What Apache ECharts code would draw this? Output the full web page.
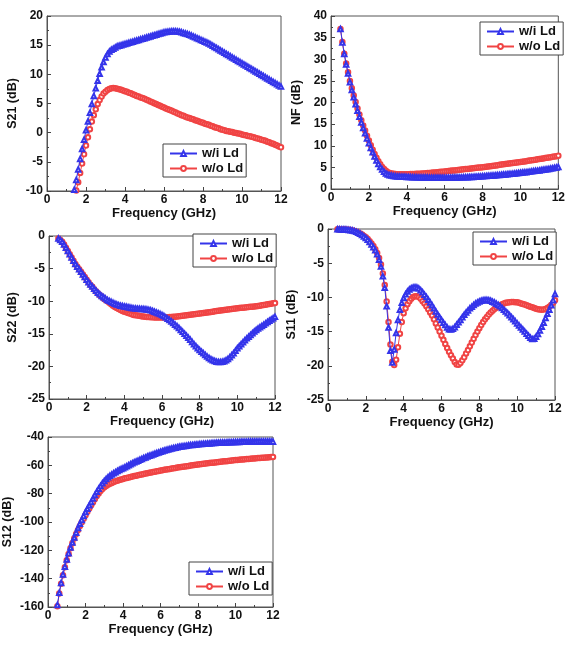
<!DOCTYPE html>
<html>
<head>
<meta charset="utf-8">
<script src="https://cdn.jsdelivr.net/npm/echarts@6/dist/echarts.min.js"></script>
<style>
html,body{margin:0;padding:0;background:#fff;}
#chart{width:568px;height:655px;}
</style>
</head>
<body>
<div id="chart"></div>
<script>
// Frequency sweep (GHz), 0.5 .. 12.0
const freq = [
  0.5,0.6,0.7,0.8,0.9,
  1.0,1.1,1.2,1.3,1.4,1.5,1.6,1.7,1.8,1.9,
  2.0,2.1,2.2,2.3,2.4,2.5,2.6,2.7,2.8,2.9,
  3.0,3.1,3.2,3.3,3.4,3.5,3.6,3.7,3.8,3.9,
  4.0,4.1,4.2,4.3,4.4,4.5,4.6,4.7,4.8,4.9,
  5.0,5.1,5.2,5.3,5.4,5.5,5.6,5.7,5.8,5.9,
  6.0,6.1,6.2,6.3,6.4,6.5,6.6,6.7,6.8,6.9,
  7.0,7.1,7.2,7.3,7.4,7.5,7.6,7.7,7.8,7.9,
  8.0,8.1,8.2,8.3,8.4,8.5,8.6,8.7,8.8,8.9,
  9.0,9.1,9.2,9.3,9.4,9.5,9.6,9.7,9.8,9.9,
  10.0,10.1,10.2,10.3,10.4,10.5,10.6,10.7,10.8,10.9,
  11.0,11.1,11.2,11.3,11.4,11.5,11.6,11.7,11.8,11.9,
  12.0
];

const seriesNames = ['w/i Ld', 'w/o Ld'];

// S21 (dB)
const s21Wi = [
  null,null,null,null,null,
  null,null,null,null,-9.8,-8.1,-6.3,-4.5,-2.8,-1.2,
  0.4,1.9,3.4,4.9,6.3,7.6,8.9,10.1,11.2,12.1,
  12.9,13.5,13.9,14.2,14.4,14.6,14.8,14.9,15.0,15.1,
  15.2,15.3,15.4,15.5,15.6,15.7,15.8,15.9,16.0,16.1,
  16.2,16.3,16.4,16.5,16.6,16.7,16.8,16.9,17.0,17.1,
  17.2,17.25,17.3,17.35,17.4,17.4,17.4,17.35,17.3,17.2,
  17.1,17.0,16.9,16.8,16.65,16.5,16.35,16.2,16.05,15.9,
  15.75,15.6,15.45,15.3,15.1,14.9,14.7,14.5,14.3,14.1,
  13.9,13.7,13.5,13.3,13.1,12.9,12.7,12.5,12.3,12.1,
  11.9,11.7,11.5,11.3,11.1,10.9,10.7,10.5,10.3,10.1,
  9.9,9.7,9.5,9.3,9.1,8.9,8.7,8.5,8.3,8.1,
  7.9
];
const s21Wo = [
  null,null,null,null,null,
  null,null,null,null,null,-9.9,-8.5,-6.9,-5.3,-3.7,
  -2.2,-0.8,0.6,1.9,3.0,4.0,4.9,5.6,6.2,6.7,
  7.0,7.3,7.5,7.6,7.65,7.6,7.55,7.45,7.35,7.25,
  7.1,7.0,6.85,6.75,6.6,6.45,6.3,6.2,6.05,5.95,
  5.8,5.65,5.5,5.35,5.2,5.05,4.9,4.75,4.6,4.45,
  4.3,4.15,4.0,3.9,3.75,3.6,3.45,3.3,3.15,3.0,
  2.9,2.75,2.6,2.5,2.4,2.3,2.15,2.05,1.9,1.8,
  1.7,1.55,1.45,1.35,1.2,1.1,0.95,0.85,0.75,0.6,
  0.5,0.4,0.3,0.25,0.15,0.1,0.0,-0.05,-0.15,-0.2,
  -0.3,-0.4,-0.45,-0.55,-0.6,-0.7,-0.8,-0.9,-1.0,-1.1,
  -1.2,-1.3,-1.4,-1.55,-1.65,-1.8,-1.9,-2.05,-2.2,-2.35,
  -2.5
];

// NF (dB)
const nfWi = [
  37.0,33.9,31.2,28.8,26.7,
  24.7,22.9,21.2,19.6,18.1,16.7,15.4,14.1,12.9,11.7,
  10.6,9.5,8.5,7.5,6.6,5.8,5.1,4.5,4.0,3.6,
  3.35,3.2,3.1,3.0,2.95,2.9,2.88,2.86,2.84,2.82,
  2.8,2.78,2.76,2.74,2.72,2.7,2.69,2.68,2.67,2.66,
  2.65,2.64,2.63,2.62,2.61,2.6,2.6,2.6,2.6,2.6,
  2.6,2.61,2.62,2.63,2.64,2.65,2.66,2.67,2.68,2.69,
  2.7,2.72,2.74,2.76,2.78,2.8,2.83,2.86,2.89,2.92,
  2.95,2.98,3.01,3.04,3.08,3.12,3.15,3.19,3.22,3.26,
  3.3,3.34,3.38,3.42,3.46,3.5,3.55,3.6,3.65,3.7,
  3.75,3.8,3.85,3.9,3.96,4.02,4.08,4.14,4.2,4.25,
  4.3,4.37,4.44,4.51,4.58,4.65,4.73,4.81,4.89,4.97,
  5.1
];
const nfWo = [
  37.0,34.0,31.3,29.0,27.0,
  25.0,23.3,21.6,20.1,18.6,17.2,15.9,14.7,13.5,12.3,
  11.2,10.1,9.1,8.1,7.2,6.4,5.7,5.1,4.6,4.2,
  3.9,3.7,3.6,3.5,3.45,3.4,3.4,3.4,3.4,3.4,
  3.4,3.42,3.44,3.46,3.48,3.5,3.52,3.55,3.58,3.61,
  3.64,3.68,3.72,3.76,3.8,3.84,3.88,3.92,3.96,4.0,
  4.05,4.1,4.15,4.2,4.25,4.3,4.35,4.4,4.45,4.5,
  4.55,4.6,4.65,4.7,4.75,4.8,4.85,4.9,4.95,5.0,
  5.05,5.1,5.16,5.22,5.28,5.34,5.4,5.46,5.52,5.58,
  5.64,5.7,5.76,5.82,5.88,5.94,6.0,6.06,6.12,6.18,
  6.24,6.3,6.37,6.44,6.51,6.58,6.65,6.72,6.79,6.86,
  6.93,7.0,7.07,7.14,7.21,7.28,7.36,7.44,7.52,7.6,
  7.7
];

// S22 (dB)
const s22Wi = [
  -0.4,-0.6,-0.9,-1.3,-1.8,
  -2.3,-2.8,-3.3,-3.8,-4.3,-4.7,-5.1,-5.5,-5.9,-6.3,
  -6.7,-7.1,-7.45,-7.75,-8.1,-8.4,-8.7,-8.95,-9.2,-9.4,
  -9.6,-9.8,-9.95,-10.1,-10.25,-10.4,-10.5,-10.6,-10.7,-10.75,
  -10.8,-10.86,-10.92,-10.98,-11.04,-11.1,-11.12,-11.14,-11.16,-11.18,
  -11.2,-11.24,-11.28,-11.33,-11.4,-11.5,-11.6,-11.72,-11.85,-11.98,
  -12.1,-12.28,-12.48,-12.7,-12.9,-13.1,-13.35,-13.6,-13.85,-14.1,
  -14.4,-14.7,-15.0,-15.3,-15.6,-15.9,-16.25,-16.6,-16.9,-17.2,
  -17.5,-17.75,-18.0,-18.25,-18.5,-18.7,-18.9,-19.05,-19.18,-19.27,
  -19.32,-19.34,-19.3,-19.2,-19.05,-18.85,-18.6,-18.3,-18.0,-17.6,
  -17.2,-16.9,-16.6,-16.3,-16.0,-15.7,-15.45,-15.2,-14.9,-14.65,
  -14.4,-14.2,-14.0,-13.8,-13.6,-13.4,-13.2,-13.0,-12.8,-12.6,
  -12.4
];
const s22Wo = [
  -0.4,-0.6,-0.9,-1.3,-1.8,
  -2.3,-2.8,-3.3,-3.8,-4.3,-4.7,-5.1,-5.5,-5.9,-6.3,
  -6.7,-7.1,-7.5,-7.8,-8.2,-8.5,-8.8,-9.1,-9.3,-9.6,
  -9.8,-10.0,-10.25,-10.45,-10.7,-10.9,-11.05,-11.2,-11.35,-11.5,
  -11.6,-11.7,-11.8,-11.9,-12.0,-12.1,-12.15,-12.2,-12.25,-12.3,
  -12.35,-12.4,-12.42,-12.44,-12.46,-12.48,-12.5,-12.5,-12.5,-12.5,
  -12.5,-12.5,-12.48,-12.46,-12.44,-12.42,-12.4,-12.37,-12.34,-12.31,
  -12.28,-12.24,-12.2,-12.16,-12.12,-12.08,-12.04,-12.0,-11.96,-11.92,
  -11.88,-11.84,-11.8,-11.76,-11.72,-11.68,-11.64,-11.6,-11.56,-11.52,
  -11.48,-11.44,-11.4,-11.36,-11.32,-11.28,-11.24,-11.2,-11.16,-11.12,
  -11.08,-11.05,-11.02,-10.99,-10.96,-10.93,-10.9,-10.87,-10.84,-10.81,
  -10.78,-10.73,-10.68,-10.63,-10.58,-10.53,-10.48,-10.43,-10.38,-10.33,
  -10.28
];

// S11 (dB)
const s11Wi = [
  -0.05,-0.05,-0.06,-0.07,-0.08,
  -0.1,-0.13,-0.17,-0.23,-0.31,-0.42,-0.55,-0.7,-0.88,-1.08,
  -1.3,-1.58,-1.9,-2.25,-2.65,-3.1,-3.7,-4.5,-5.5,-6.9,
  -8.6,-11.3,-14.4,-17.8,-19.5,-17.6,-15.2,-13.3,-11.8,-10.8,
  -10.1,-9.55,-9.15,-8.85,-8.65,-8.55,-8.5,-8.55,-8.7,-8.95,
  -9.25,-9.6,-9.95,-10.35,-10.75,-11.15,-11.6,-12.05,-12.5,-12.9,
  -13.3,-13.7,-14.05,-14.4,-14.65,-14.7,-14.6,-14.35,-14.0,-13.65,
  -13.3,-12.9,-12.55,-12.2,-11.9,-11.6,-11.35,-11.1,-10.9,-10.75,
  -10.6,-10.5,-10.42,-10.38,-10.38,-10.42,-10.5,-10.62,-10.75,-10.92,
  -11.1,-11.3,-11.55,-11.8,-12.05,-12.3,-12.6,-12.9,-13.2,-13.5,
  -13.8,-14.1,-14.4,-14.7,-15.0,-15.3,-15.6,-15.9,-16.1,-16.05,
  -15.75,-15.35,-14.85,-14.3,-13.7,-13.0,-12.4,-11.8,-11.15,-10.4,
  -9.5
];
const s11Wo = [
  -0.05,-0.05,-0.06,-0.07,-0.08,
  -0.1,-0.12,-0.16,-0.21,-0.29,-0.39,-0.51,-0.65,-0.82,-1.01,
  -1.22,-1.48,-1.78,-2.12,-2.5,-2.95,-3.5,-4.25,-5.2,-6.5,
  -8.2,-10.6,-13.6,-16.9,-19.4,-19.9,-19.1,-17.3,-15.3,-13.6,
  -12.3,-11.6,-11.0,-10.55,-10.2,-9.95,-9.85,-9.85,-9.95,-10.2,
  -10.55,-10.9,-11.3,-11.75,-12.2,-12.65,-13.2,-13.8,-14.4,-15.0,
  -15.6,-16.2,-16.8,-17.4,-17.95,-18.45,-18.95,-19.45,-19.8,-19.85,
  -19.6,-19.2,-18.75,-18.2,-17.7,-17.15,-16.6,-16.05,-15.5,-15.0,
  -14.5,-14.05,-13.6,-13.2,-12.85,-12.5,-12.2,-11.95,-11.7,-11.5,
  -11.3,-11.15,-11.0,-10.9,-10.8,-10.75,-10.7,-10.68,-10.68,-10.7,
  -10.72,-10.8,-10.88,-10.96,-11.05,-11.15,-11.25,-11.35,-11.45,-11.55,
  -11.65,-11.72,-11.78,-11.8,-11.78,-11.7,-11.55,-11.35,-11.1,-10.8,
  -10.4
];

// S12 (dB)
const s12Wi = [
  -158.5,-150,-143,-137,-131.5,
  -126.5,-122,-118,-114.5,-111,-107.5,-104.3,-101.3,-98.5,-95.7,
  -93.0,-90.6,-88.2,-85.8,-83.4,-81.0,-78.7,-76.5,-74.5,-72.6,
  -71.0,-69.6,-68.4,-67.3,-66.4,-65.6,-64.8,-64.0,-63.3,-62.6,
  -62.0,-61.3,-60.6,-59.9,-59.2,-58.6,-57.9,-57.3,-56.7,-56.1,
  -55.5,-54.9,-54.4,-53.8,-53.3,-52.8,-52.3,-51.8,-51.3,-50.9,
  -50.4,-50.0,-49.6,-49.2,-48.8,-48.4,-48.1,-47.8,-47.5,-47.2,
  -46.9,-46.7,-46.5,-46.3,-46.1,-45.9,-45.7,-45.6,-45.4,-45.3,
  -45.2,-45.0,-44.9,-44.8,-44.7,-44.6,-44.5,-44.4,-44.3,-44.2,
  -44.1,-44.0,-43.95,-43.9,-43.85,-43.8,-43.75,-43.7,-43.65,-43.6,
  -43.55,-43.5,-43.45,-43.4,-43.35,-43.3,-43.3,-43.25,-43.2,-43.2,
  -43.15,-43.1,-43.1,-43.1,-43.1,-43.1,-43.1,-43.1,-43.15,-43.2,
  -43.3
];
const s12Wo = [
  -159.5,-150.5,-143.5,-137.5,-132,
  -127,-122.5,-118.5,-115,-111.6,-108.5,-105.6,-102.8,-100.2,-97.7,
  -95.2,-92.8,-90.5,-88.2,-86.0,-83.8,-81.7,-79.8,-78.1,-76.7,
  -75.5,-74.5,-73.7,-73.0,-72.4,-71.8,-71.3,-70.8,-70.4,-70.0,
  -69.6,-69.2,-68.9,-68.5,-68.2,-67.9,-67.6,-67.3,-67.0,-66.7,
  -66.4,-66.1,-65.8,-65.5,-65.3,-65.0,-64.7,-64.5,-64.2,-64.0,
  -63.7,-63.5,-63.2,-63.0,-62.8,-62.5,-62.3,-62.1,-61.9,-61.6,
  -61.4,-61.2,-61.0,-60.8,-60.6,-60.4,-60.2,-60.0,-59.8,-59.6,
  -59.4,-59.2,-59.05,-58.9,-58.7,-58.55,-58.4,-58.25,-58.1,-57.95,
  -57.8,-57.65,-57.5,-57.35,-57.2,-57.05,-56.9,-56.75,-56.6,-56.45,
  -56.3,-56.2,-56.05,-55.95,-55.8,-55.7,-55.55,-55.45,-55.3,-55.2,
  -55.1,-55.0,-54.9,-54.8,-54.7,-54.6,-54.5,-54.4,-54.3,-54.2,
  -54.1
];

// y-axis per panel: [name, min, max, interval]
const yAxes = [
  ['S21 (dB)', -10, 20, 5],
  ['NF (dB)', 0, 40, 5],
  ['S22 (dB)', -25, 0, 5],
  ['S11 (dB)', -25, 0, 5],
  ['S12 (dB)', -160, -40, 20]
];
const panelData = [[s21Wi, s21Wo], [nfWi, nfWo], [s22Wi, s22Wo], [s11Wi, s11Wo], [s12Wi, s12Wo]];

// layout (pixels)
const grids = [
  {left: 47, top: 16, width: 234, height: 175},
  {left: 331, top: 16, width: 232, height: 173},
  {left: 49, top: 236, width: 226, height: 163},
  {left: 328, top: 229, width: 227, height: 171},
  {left: 46, top: 437, width: 227, height: 170}
];
const legendPos = [
  {left: 163, top: 144},
  {left: 480, top: 22},
  {left: 193, top: 234},
  {left: 473, top: 232},
  {left: 189, top: 562}
];
const yNameGap = [28, 28, 30, 30, 34];

const BLUE = '#3434ea';
const RED = '#f04444';
const FONT = '"Liberation Sans", Arial, sans-serif';

function pairs(vals) {
  const out = [];
  for (let i = 0; i < freq.length; i++) {
    if (vals[i] !== null && vals[i] !== undefined) out.push([freq[i], vals[i]]);
  }
  return out;
}

const option = {
  backgroundColor: '#fff',
  animation: false,
  grid: grids.map(g => Object.assign({show: true, borderColor: '#555', borderWidth: 1, backgroundColor: 'transparent'}, g)),
  xAxis: grids.map((g, i) => ({
    type: 'value', gridIndex: i, min: 0, max: 12, interval: 2,
    name: 'Frequency (GHz)', nameLocation: 'middle', nameGap: 15,
    nameTextStyle: {fontFamily: FONT, fontWeight: 'bold', fontSize: 13, color: '#111'},
    axisLine: {show: true, onZero: false, lineStyle: {color: '#555', width: 1}},
    axisTick: {show: true, inside: true, length: 4, lineStyle: {color: '#444'}},
    minorTick: {show: true, splitNumber: 2, length: 2, lineStyle: {color: '#444'}},
    splitLine: {show: false},
    axisLabel: {fontFamily: FONT, fontWeight: 'bold', fontSize: 12, color: '#111', margin: 3}
  })),
  yAxis: yAxes.map((a, i) => ({
    type: 'value', gridIndex: i, min: a[1], max: a[2], interval: a[3],
    name: a[0], nameLocation: 'middle', nameGap: yNameGap[i], nameRotate: 90,
    nameTextStyle: {fontFamily: FONT, fontWeight: 'bold', fontSize: 12.5, color: '#111'},
    axisLine: {show: true, onZero: false, lineStyle: {color: '#555', width: 1}},
    axisTick: {show: true, inside: true, length: 4, lineStyle: {color: '#444'}},
    minorTick: {show: true, splitNumber: 2, length: 2, lineStyle: {color: '#444'}},
    splitLine: {show: false},
    axisLabel: {fontFamily: FONT, fontWeight: 'bold', fontSize: 12, color: '#111', margin: 4}
  })),
  legend: legendPos.map(p => ({
    left: p.left, top: p.top, orient: 'vertical',
    data: seriesNames,
    padding: [3, 3, 2, 6],
    itemGap: 2, itemWidth: 27, itemHeight: 6,
    borderColor: '#444', borderWidth: 1, borderRadius: 0,
    backgroundColor: '#fff',
    textStyle: {fontFamily: FONT, fontWeight: 'bold', fontSize: 13, color: '#111', lineHeight: 12},
    selectedMode: false
  })),
  series: []
};

panelData.forEach((pd, i) => {
  pd.forEach((vals, k) => {
    option.series.push({
      type: 'line', name: seriesNames[k],
      xAxisIndex: i, yAxisIndex: i,
      data: pairs(vals),
      symbol: k === 0 ? 'emptyTriangle' : 'emptyCircle',
      symbolSize: 4.5,
      showSymbol: true,
      clip: true,
      lineStyle: {color: k === 0 ? BLUE : RED, width: 1},
      itemStyle: {color: k === 0 ? BLUE : RED, borderWidth: 1},
      z: k === 0 ? 3 : 2
    });
  });
});

const chart = echarts.init(document.getElementById('chart'), null, {renderer: 'canvas'});
chart.setOption(option);
</script>
</body>
</html>
